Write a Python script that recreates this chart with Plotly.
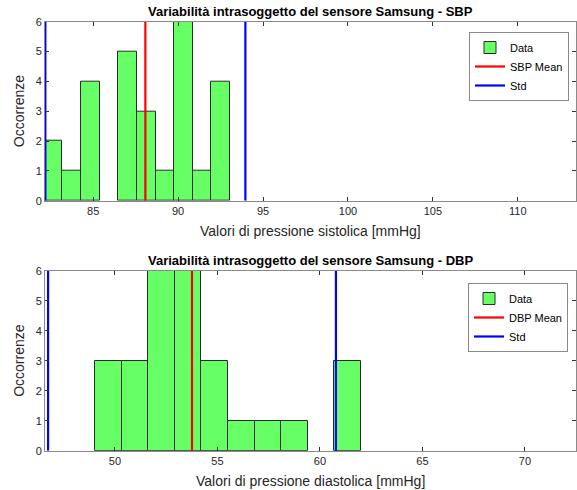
import plotly.graph_objects as go

# ---- data ----
sbp_edges = [82.08, 83.18, 84.28, 85.37, 86.47, 87.57, 88.67, 89.77, 90.86, 91.96, 93.06]
sbp_counts = [2, 1, 4, 0, 5, 3, 1, 6, 1, 4]
sbp_mean = 88.07
sbp_std = 5.89

dbp_edges = [49.03, 50.33, 51.63, 52.92, 54.22, 55.52, 56.82, 58.12, 59.41, 60.71, 62.01]
dbp_counts = [3, 3, 6, 6, 3, 1, 1, 1, 0, 3]
dbp_mean = 53.76
dbp_std = 7.02

sbp_xticks = [85, 90, 95, 100, 105, 110]
dbp_xticks = [50, 55, 60, 65, 70]
y_ticks = [0, 1, 2, 3, 4, 5, 6]

titles = ["Variabilità intrasoggetto del sensore Samsung - SBP",
          "Variabilità intrasoggetto del sensore Samsung - DBP"]
xlabels = ["Valori di pressione sistolica [mmHg]",
           "Valori di pressione diastolica [mmHg]"]
ylabel = "Occorrenze"

W, H = 577, 490
FONT = "Liberation Sans, Arial, Helvetica, sans-serif"
TXT = "#262626"
GREEN = "rgb(102,255,102)"

fig = go.Figure()


def add_hist(edges, counts, mean, std, meanname, xa, ya, leg):
    idx = [i for i in range(len(counts)) if counts[i] > 0]
    centers = [(edges[i] + edges[i + 1]) / 2 for i in idx]
    widths = [edges[i + 1] - edges[i] for i in idx]
    heights = [counts[i] for i in idx]
    fig.add_trace(go.Bar(x=centers, y=heights, width=widths, name="Data",
                         marker=dict(color=GREEN, line=dict(color="#2a2a2a", width=1)),
                         xaxis=xa, yaxis=ya, legend=leg, hoverinfo="x+y"))
    fig.add_trace(go.Scatter(x=[mean, mean], y=[0, 6], mode="lines", name=meanname,
                             line=dict(color="#ff0000", width=2.2),
                             xaxis=xa, yaxis=ya, legend=leg))
    fig.add_trace(go.Scatter(x=[mean - std, mean - std, None, mean + std, mean + std],
                             y=[0, 6, None, 0, 6], mode="lines", name="Std",
                             line=dict(color="#0000ff", width=2.2),
                             xaxis=xa, yaxis=ya, legend=leg))


add_hist(sbp_edges, sbp_counts, sbp_mean, sbp_std, "SBP Mean", "x", "y", "legend")
add_hist(dbp_edges, dbp_counts, dbp_mean, dbp_std, "DBP Mean", "x2", "y2", "legend2")

# pixel geometry
L, R = 45, 576
tops = [(21.7, 200.7), (271.0, 450.7)]


def py(p):
    return (H - p) / H


axis_common = dict(showline=True, linecolor="#8a8a8a", linewidth=1, mirror="allticks",
                   ticks="inside", ticklen=4, tickcolor="#333333", showgrid=False,
                   zeroline=False, tickfont=dict(family=FONT, size=11, color=TXT))

fig.update_layout(
    width=W, height=H, margin=dict(l=0, r=0, t=0, b=0, autoexpand=False),
    plot_bgcolor="white", paper_bgcolor="white", barmode="overlay", bargap=0,
    font=dict(family=FONT, size=11, color=TXT),
    xaxis=dict(domain=[L / W, R / W], range=[82.16, 113.43], anchor="y",
               tickvals=sbp_xticks, **axis_common),
    yaxis=dict(domain=[py(tops[0][1]), py(tops[0][0])], range=[0, 6], anchor="x",
               tickvals=y_ticks, **axis_common),
    xaxis2=dict(domain=[L / W, R / W], range=[46.59, 72.49], anchor="y2",
                tickvals=dbp_xticks, **axis_common),
    yaxis2=dict(domain=[py(tops[1][1]), py(tops[1][0])], range=[0, 6], anchor="x2",
                tickvals=y_ticks, **axis_common),
    legend=dict(x=469 / W, y=py(32), xanchor="left", yanchor="top",
                bordercolor="#8a8a8a", borderwidth=1, bgcolor="white", itemwidth=30,
                font=dict(family=FONT, size=11, color="#000"), tracegroupgap=0),
    legend2=dict(x=468 / W, y=py(283), xanchor="left", yanchor="top",
                 bordercolor="#8a8a8a", borderwidth=1, bgcolor="white", itemwidth=30,
                 font=dict(family=FONT, size=11, color="#000"), tracegroupgap=0),
    showlegend=True,
)

anns = []
for i, (t, b) in enumerate(tops):
    anns.append(dict(text="<b>" + titles[i] + "</b>", x=(L + R) / 2 / W, y=py(t - 1),
                     xref="paper", yref="paper", xanchor="center", yanchor="bottom",
                     showarrow=False, font=dict(family=FONT, size=13, color="#000")))
    anns.append(dict(text=xlabels[i], x=(L + R) / 2 / W, y=py(b + 20),
                     xref="paper", yref="paper", xanchor="center", yanchor="top",
                     showarrow=False, font=dict(family=FONT, size=14, color=TXT)))
    anns.append(dict(text=ylabel, x=19 / W, y=py((t + b) / 2), textangle=-90,
                     xref="paper", yref="paper", xanchor="center", yanchor="middle",
                     showarrow=False, font=dict(family=FONT, size=14, color=TXT)))
fig.update_layout(annotations=anns)

fig.write_html("out.html", config={"displayModeBar": False},
               post_script="document.body.style.margin='0';")
